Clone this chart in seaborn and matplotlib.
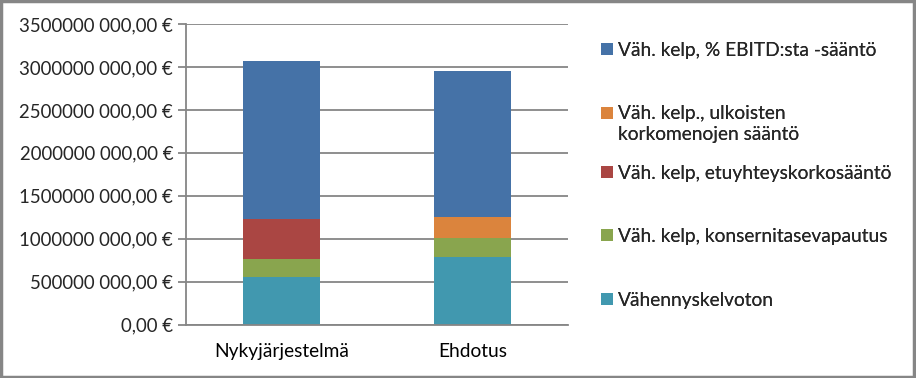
import numpy as np
import pandas as pd
import matplotlib
matplotlib.use("Agg")
import matplotlib.pyplot as plt
from matplotlib.patches import Rectangle, Patch
from matplotlib.ticker import FuncFormatter, FixedLocator
import seaborn as sns

# Data (euros)
kategoriat = ["Nykyjärjestelmä", "Ehdotus"]
sarjat = [
    "Vähennyskelvoton",
    "Väh. kelp, konsernitasevapautus",
    "Väh. kelp, etuyhteyskorkosääntö",
    "Väh. kelp., ulkoisten\nkorkomenojen sääntö",
    "Väh. kelp, % EBITD:sta -sääntö",
]
vahennyskelvoton = [555e6, 788e6]
konsernitase = [210e6, 225e6]
etuyhteys = [462e6, 0.0]
ulkoiset = [0.0, 244e6]
ebitd = [1843e6, 1696e6]
varit = ["#4198AF", "#89A54E", "#AA4643", "#DB843D", "#4572A7"]

GRID = "#868686"
# legend rows (pixel y of first text line), top entry first
LEGEND_Y = [51.7, 115.5, 175, 238, 301.7]

sns.set_theme(style="white")
plt.rcParams["font.family"] = ["Lato", "DejaVu Sans"]


def euro_fmt(v, pos):
    if v == 0:
        return "0,00 €"
    v = int(round(v))
    return f"{v // 1000} {v % 1000:03d},00 €"


def main():
    arvot = [vahennyskelvoton, konsernitase, etuyhteys, ulkoiset, ebitd]
    df = pd.DataFrame(np.array(arvot).T, columns=sarjat)
    df["kategoria"] = kategoriat
    kum = df[sarjat].cumsum(axis=1)

    fig = plt.figure(figsize=(9.16, 3.78), dpi=100)
    ax = fig.add_axes([185.7 / 916, 1 - 324.7 / 378, (568 - 185.7) / 916, (324.7 - 24) / 378])

    # stacked bars: draw cumulative totals from top layer down
    for i in range(len(sarjat) - 1, -1, -1):
        sns.barplot(x=df["kategoria"], y=kum[sarjat[i]], color=varit[i],
                    width=0.4, ax=ax, saturation=1, zorder=3, linewidth=0, edgecolor="none")

    ax.set_xlim(-0.5, 1.5)
    ax.set_ylim(0, 3500e6)
    ax.set_yticks(np.arange(0, 3500e6 + 1, 500e6))
    ax.yaxis.set_major_formatter(FuncFormatter(euro_fmt))
    ax.grid(axis="y", color=GRID, linewidth=1.3, zorder=0)
    ax.set_axisbelow(True)
    ax.set_xlabel("")
    ax.set_ylabel("")

    ax.xaxis.set_minor_locator(FixedLocator([-0.5, 0.5, 1.5]))
    ax.tick_params(axis="x", which="major", length=0, pad=13, labelsize=13.8, colors="black")
    ax.tick_params(axis="x", which="minor", length=6, width=1.3, color=GRID, direction="out")
    ax.tick_params(axis="y", length=6, width=1.3, color=GRID, direction="out", labelsize=13.4, pad=3,
                   left=True)
    for s in ["top", "right"]:
        ax.spines[s].set_visible(False)
    for s in ["left", "bottom"]:
        ax.spines[s].set_color(GRID)
        ax.spines[s].set_linewidth(1.3)
    ax.spines["bottom"].set_zorder(4)

    # legend entries, one per row as in the original (top layer first)
    for k, i in enumerate(range(len(sarjat) - 1, -1, -1)):
        rivit = sarjat[i].split("\n")
        kahvat = [Patch(facecolor=varit[i], edgecolor="none")]
        kahvat += [Patch(facecolor="none", edgecolor="none")] * (len(rivit) - 1)
        leg = fig.legend(kahvat, rivit, loc="upper left",
                         bbox_to_anchor=(601 / 916, 1 - (LEGEND_Y[k] - 10) / 378),
                         frameon=False, fontsize=13.8, handlelength=0.6, handleheight=0.6,
                         handletextpad=0.3, labelspacing=0.2, borderaxespad=0, borderpad=0)
        fig.add_artist(leg)

    fig.patches.append(Rectangle((0.001, 0.002), 0.997, 0.995, transform=fig.transFigure,
                                 fill=False, edgecolor=GRID, linewidth=2.5, zorder=10))
    fig.savefig("out.png", dpi=100)
    plt.close(fig)


if __name__ == "__main__":
    main()
